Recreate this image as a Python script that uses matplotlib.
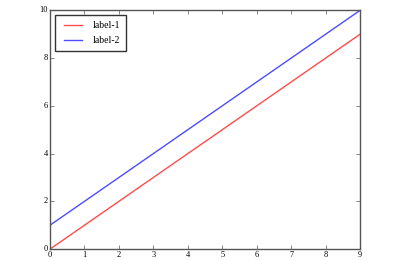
import matplotlib
matplotlib.use("Agg")
import matplotlib.pyplot as plt
import numpy as np

plt.style.use("classic")
plt.rcParams["font.family"] = ["Liberation Serif", "DejaVu Serif"]

x = np.array([0, 1, 2, 3, 4, 5, 6, 7, 8, 9])
y1 = np.array([0, 1, 2, 3, 4, 5, 6, 7, 8, 9])
y2 = np.array([1, 2, 3, 4, 5, 6, 7, 8, 9, 10])

fig = plt.figure(figsize=(4, 2.6), dpi=100)
ax = fig.add_axes([0.125, 0.042, 0.775, 0.918])

ax.plot(x, y1, color="r", lw=1, alpha=0.7, label="label-1")
ax.plot(x, y2, color="b", lw=1, alpha=0.7, label="label-2")

for sp in ax.spines.values():
    sp.set_color("#555555")
ax.tick_params(labelsize=6, length=3, pad=1.5, color="#555555")
leg = ax.legend(loc="upper left", fontsize=7, handlelength=2.5, borderpad=0.6,
                labelspacing=0.6)
leg.get_frame().set_edgecolor("#333333")

fig.savefig("out.png", dpi=100)
